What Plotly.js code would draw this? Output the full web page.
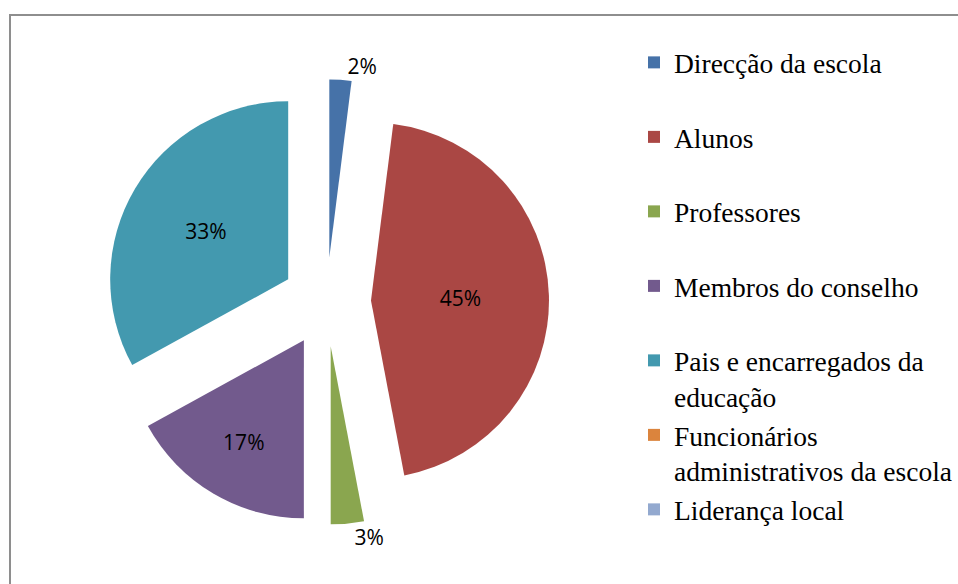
<!DOCTYPE html>
<html>
<head>
<meta charset="utf-8">
<script src="https://cdn.plot.ly/plotly-3.0.1.min.js"></script>
<style>
  html, body { margin: 0; padding: 0; background: #ffffff; }
  #chart { width: 958px; height: 584px; }
</style>
</head>
<body>
<div id="chart"></div>
<script>
// ---- data ----
const categories = [
  "Direcção da escola",
  "Alunos",
  "Professores",
  "Membros do conselho",
  "Pais e encarregados da educação",
  "Funcionários administrativos da escola",
  "Liderança local"
];
const percentages = [2, 45, 3, 17, 33, 0, 0];
const sliceColors = ["#4672A8", "#AA4744", "#8AA64F", "#725A8D", "#4399AF", "#DB843D", "#93A9CF"];

// ---- layout helpers ----
const W = 958, H = 584;
const WRAP = 25;            // legend wrap width (chars)
function wrap(s) {
  const words = s.split(" ");
  const lines = [];
  let cur = "";
  words.forEach(w => {
    const t = cur ? cur + " " + w : w;
    if (t.length > WRAP && cur) { lines.push(cur); cur = w; } else { cur = t; }
  });
  lines.push(cur);
  return lines;
}
// every legend entry occupies two text lines (Excel spreads the entries evenly)
const legendLabels = categories.map((c, i) => {
  const lines = wrap(c);
  if (lines.length < 2 && i < categories.length - 1) lines.push(" ");
  return lines.join("<br>");
});
const textPos = percentages.map(v => v === 0 ? "none" : (v < 5 ? "outside" : "inside"));

// pie geometry (pixels)
const pieCx = 326.5, pieCy = 302, pieHalf = 222.5;

const SERIF = "Liberation Serif, Times New Roman, serif";

const trace = {
  type: "pie",
  labels: legendLabels,
  values: percentages,
  sort: false,
  direction: "clockwise",
  rotation: 0,
  pull: 0.25,
  marker: { colors: sliceColors, line: { width: 0 } },
  texttemplate: "%{percent:.0%}",
  textposition: textPos,
  textfont: { family: "Open Sans", size: 21, color: "#000000" },
  insidetextorientation: "horizontal",
  hoverinfo: "label+percent",
  domain: {
    x: [(pieCx - pieHalf) / W, (pieCx + pieHalf) / W],
    y: [(H - pieCy - pieHalf) / H, (H - pieCy + pieHalf) / H]
  }
};

const layout = {
  width: W,
  height: H,
  margin: { l: 0, r: 0, t: 0, b: 0 },
  paper_bgcolor: "#ffffff",
  plot_bgcolor: "#ffffff",
  font: { family: SERIF, color: "#000000" },
  showlegend: true,
  legend: {
    x: 634 / W,
    y: 1 - 38 / H,
    xanchor: "left",
    yanchor: "top",
    valign: "top",
    bgcolor: "rgba(0,0,0,0)",
    font: { family: SERIF, size: 27.5, color: "#000000" },
    traceorder: "normal"
  },
  shapes: [{
    type: "rect",
    xref: "paper", yref: "paper",
    x0: 10 / W, x1: 1.2,
    y0: -0.2, y1: 1 - 15 / H,
    line: { color: "#8E8E8E", width: 2 },
    fillcolor: "rgba(0,0,0,0)",
    layer: "below"
  }]
};

Plotly.newPlot("chart", [trace], layout, { displayModeBar: false, staticPlot: true });
</script>
</body>
</html>
